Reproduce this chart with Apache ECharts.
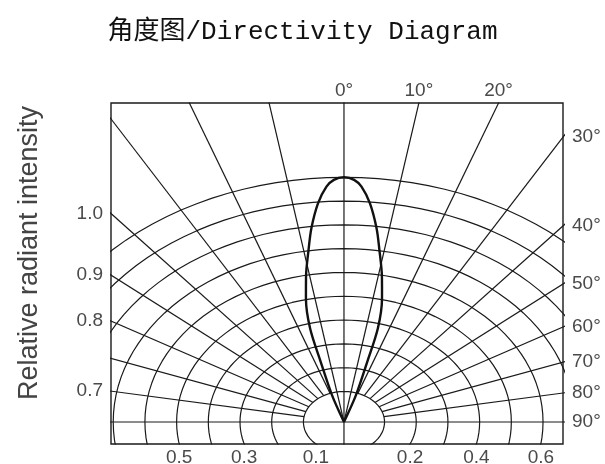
<!DOCTYPE html>
<html>
<head>
<meta charset="utf-8">
<title>Directivity Diagram</title>
<script src="https://cdn.jsdelivr.net/npm/echarts@6/dist/echarts.min.js"></script>
<style>
  html, body { margin: 0; padding: 0; background: #fff; }
  #chart { width: 605px; height: 464px; }
</style>
</head>
<body>
<div id="chart"></div>
<script>
// rings of the polar grid (relative intensity) and the spokes (deg off axis)
var ringValues = [0.1, 0.2, 0.3, 0.4, 0.5, 0.6, 0.7, 0.8, 0.9, 1.0];
var spokeAngles = [-80, -70, -60, -50, -40, -30, -20, -10, 10, 20, 30, 40, 50, 60, 70, 80];

// beam pattern
var beamAngles = [-20, -18.5, -16.2, -15.2, -13, -11.1, -8.8, -7.2, -5.1, -3.2, -1.8, 0,
                  1.8, 3.2, 5.1, 7.2, 8.8, 11.1, 13, 15.2, 16.2, 18.5, 20];
var beamIntensity = [0, 0.116, 0.257, 0.397, 0.519, 0.605, 0.711, 0.798, 0.897, 0.963, 0.99, 1.0,
                     0.99, 0.963, 0.897, 0.798, 0.711, 0.605, 0.519, 0.397, 0.257, 0.116, 0];

// tick labels (bottom: minus sign = left of centre)
var bottomTicks = [-0.5, -0.3, -0.1, 0.2, 0.4, 0.6];
var leftTickAngles = [40, 50, 60, 80];
var leftTickLabels = ['1.0', '0.9', '0.8', '0.7'];
var rightTickAngles = [30, 40, 50, 60, 70, 80, 90];
var topTickAngles = [0, 10, 20];

var chart = echarts.init(document.getElementById('chart'));

var X_MIN = -0.735, X_MAX = 0.691, Y_MIN = -0.0924, Y_MAX = 1.34;
var R0 = 0.028; // rings sit a little outside their nominal value
var LINE = '#1a1a1a';
var LABEL = { color: '#4a4a4a', fontSize: 19, fontFamily: 'Liberation Sans, Arial, sans-serif' };

function rad(d) { return d * Math.PI / 180; }
function pt(r, deg) { return [r * Math.sin(rad(deg)), r * Math.cos(rad(deg))]; }
function cot(deg) { return Math.cos(rad(deg)) / Math.sin(rad(deg)); }
function pick(values, labels) {
  return function (v) {
    for (var i = 0; i < values.length; i++) {
      if (Math.abs(values[i] - v) < 1e-6) return labels[i];
    }
    return '';
  };
}

var bottomX = bottomTicks.map(function (t) {
  var r = Math.abs(t) + R0;
  return Math.sign(t) * Math.sqrt(r * r - Y_MIN * Y_MIN);
});
var bottomLabels = bottomTicks.map(function (t) { return Math.abs(t).toFixed(1); });
var topX = topTickAngles.map(function (a) { return Y_MAX * Math.tan(rad(a)); });
var topLabels = topTickAngles.map(function (a) { return a + '°'; });
var leftY = leftTickAngles.map(function (a) { return -X_MIN * cot(a); });
var rightY = rightTickAngles.map(function (a) { return X_MAX * cot(a); });
var rightLabels = rightTickAngles.map(function (a) { return a + '°'; });

function gridLine(pts) {
  return {
    type: 'line', data: pts, showSymbol: false, silent: true, clip: true,
    lineStyle: { color: LINE, width: 1.2 }, z: 2
  };
}

var series = [];
ringValues.forEach(function (v) {
  var pts = [];
  for (var a = 0; a <= 360; a += 3) pts.push(pt(v + R0, a));
  series.push(gridLine(pts));
});
spokeAngles.forEach(function (a) {
  var r1 = Math.abs(a) <= 10 ? 0 : ringValues[0] + R0;
  series.push(gridLine([pt(r1, a), pt(3, a)]));
});
series.push(gridLine([[0, Y_MIN - 1], [0, Y_MAX + 1]]));
series.push(gridLine([[X_MIN - 1, 0], [X_MAX + 1, 0]]));

series.push({
  type: 'line',
  data: beamAngles.map(function (a, i) { return pt(beamIntensity[i] * (1 + R0), a); }),
  smooth: 0.3, showSymbol: false, clip: true,
  lineStyle: { color: '#111', width: 2.4 }, z: 5
});

function axisBase(extra) {
  return Object.assign({
    type: 'value',
    axisLine: { show: false },
    axisTick: { show: false },
    splitLine: { show: false }
  }, extra);
}

chart.setOption({
  animation: false,
  backgroundColor: '#fff',
  title: {
    text: '角度图/Directivity Diagram',
    left: 'center',
    top: 14,
    textStyle: {
      color: '#111', fontSize: 26, fontWeight: 'normal',
      fontFamily: "'Liberation Mono', 'Noto Sans CJK SC', monospace"
    }
  },
  grid: {
    left: 111, right: 42, top: 103, bottom: 20,
    show: true, borderColor: '#1a1a1a', borderWidth: 1.4,
    outerBoundsMode: 'none'
  },
  xAxis: [
    axisBase({
      position: 'bottom', min: X_MIN, max: X_MAX,
      axisLabel: Object.assign({ customValues: bottomX, formatter: pick(bottomX, bottomLabels), margin: 4 }, LABEL)
    }),
    axisBase({
      position: 'top', min: X_MIN, max: X_MAX,
      axisLabel: Object.assign({ customValues: topX, formatter: pick(topX, topLabels), margin: 3 }, LABEL)
    })
  ],
  yAxis: [
    axisBase({
      position: 'left', min: Y_MIN, max: Y_MAX,
      axisLabel: Object.assign({ customValues: leftY, formatter: pick(leftY, leftTickLabels), margin: 8 }, LABEL)
    }),
    axisBase({
      position: 'right', min: Y_MIN, max: Y_MAX,
      axisLabel: Object.assign({ customValues: rightY, formatter: pick(rightY, rightLabels), margin: 9 }, LABEL)
    })
  ],
  graphic: [{
    type: 'text',
    x: 30, y: 253,
    rotation: Math.PI / 2,
    style: {
      text: 'Relative radiant intensity',
      fill: '#444',
      fontSize: 27,
      fontFamily: 'Liberation Sans, Arial, sans-serif',
      align: 'center',
      verticalAlign: 'middle'
    }
  }],
  series: series
});
</script>
</body>
</html>
